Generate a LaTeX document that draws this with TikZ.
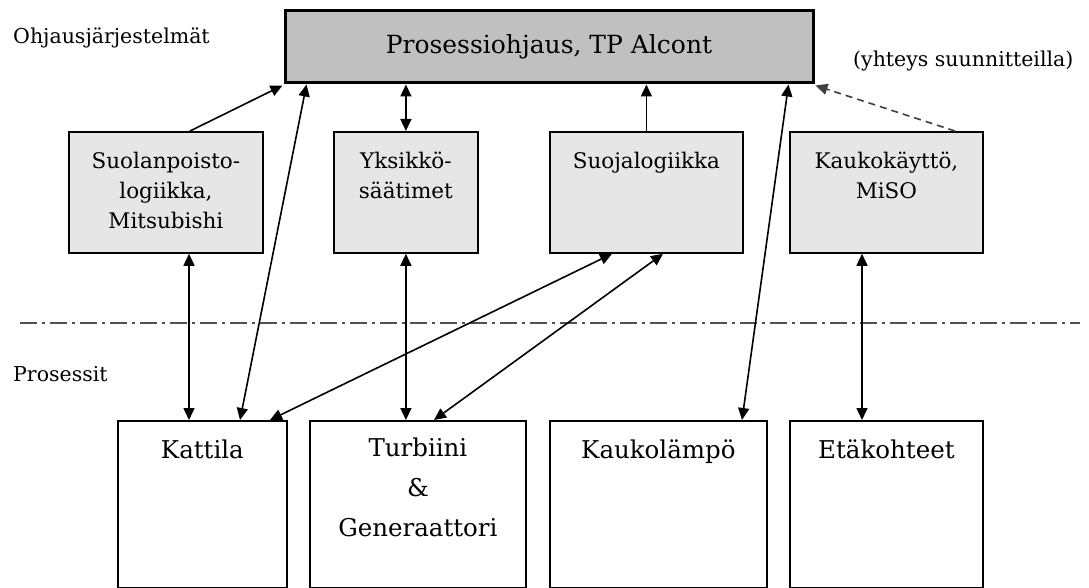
\documentclass[tikz,border=0pt]{standalone}
\usepackage{fontspec}
\setmainfont{DejaVu Serif}
\usetikzlibrary{arrows.meta,calc}
\definecolor{topfill}{HTML}{C0C0C0}
\definecolor{midfill}{HTML}{E6E6E6}
\definecolor{sepcol}{HTML}{505050}
\definecolor{plancol}{HTML}{404040}
\begin{document}
\begin{tikzpicture}[x=1pt,y=-1pt,
  >={Triangle[length=12pt,width=11pt]},
  topbox/.style={draw, line width=3pt, fill=topfill, minimum width=528pt, minimum height=72pt, inner sep=0pt, font=\fontsize{25}{30}\selectfont},
  midbox/.style={draw, line width=1.8pt, fill=midfill, minimum height=121pt, inner sep=0pt, anchor=north west},
  botbox/.style={draw, line width=1.8pt, fill=white, minimum height=167pt, inner sep=0pt, anchor=north west},
  midtxt/.style={anchor=north, inner sep=0pt, align=center, font=\fontsize{21.5}{30}\selectfont},
  bottxt/.style={anchor=north, inner sep=0pt, align=center, font=\fontsize{24.5}{40}\selectfont},
  lab/.style={anchor=base west, inner sep=0pt, font=\fontsize{20.5}{24}\selectfont},
  con/.style={line width=1.6pt},
  sepline/.style={line width=1.8pt, sepcol, dash pattern=on 17pt off 5pt on 3pt off 5pt},
  plan/.style={con, plancol, dash pattern=on 7pt off 5pt}
]
\useasboundingbox (0,0) rectangle (1089,588);

% labels
\node[lab] (ohj) at (13,44) {Ohjausjärjestelmät};
\node[lab] (pros) at (13,381) {Prosessit};
\node[lab] (yht) at (853,67) {(yhteys suunnitteilla)};

% top box
\node[topbox] (top) at (549,47) {Prosessiohjaus, TP Alcont};

% middle boxes
\node[midbox, minimum width=194pt] (suol) at (68,131) {};
\node[midbox, minimum width=144pt] (yks) at (333,131) {};
\node[midbox, minimum width=193pt] (suoj) at (549,131) {};
\node[midbox, minimum width=193pt] (kauk) at (789,131) {};
\node[midtxt] (suolT) at ($(suol.north)+(0,20.5)$) {Suolanpoisto-\\logiikka,\\Mitsubishi};
\node[midtxt] (yksT) at ($(yks.north)+(0,20.5)$) {Yksikkö-\\säätimet};
\node[midtxt] (suojT) at ($(suoj.north)+(0,20.5)$) {Suojalogiikka};
\node[midtxt] (kaukT) at ($(kauk.north)+(0,20.5)$) {Kaukokäyttö,\\MiSO};

% bottom boxes
\node[botbox, minimum width=169pt] (katt) at (117,420) {};
\node[botbox, minimum width=216pt] (turb) at (309,420) {};
\node[botbox, minimum width=217pt] (kaul) at (549,420) {};
\node[botbox, minimum width=193pt] (etak) at (789,420) {};
\node[bottxt] (kattT) at ($(katt.north)+(0,20)$) {Kattila};
\node[bottxt] (turbT) at ($(turb.north)+(0,18)$) {Turbiini\\\&\\Generaattori};
\node[bottxt] (kaulT) at ($(kaul.north)+(0,20)$) {Kaukolämpö};
\node[bottxt] (etakT) at ($(etak.north)+(0,20)$) {Etäkohteet};

% separator
\coordinate (sepL) at (20,323);
\coordinate (sepR) at (1080,323);
\draw[sepline] (sepL) -- (sepR);

% connectors to the top box
\draw[con, ->] ($(suol.north west)+(122,0)$) -- ($(top.south west)+(-1,1)$);
\draw[con, <->] ($(top.south west)+(23,0)$) -- ($(katt.north west)+(123,0)$);
\draw[con, <->] (yks.north |- top.south) -- (yks.north);
\draw[con, ->] (suoj.north) -- (suoj.north |- top.south);
\draw[con, <->] ($(top.south east)+(-26,0)$) -- ($(kaul.north west)+(193,0)$);
\draw[plan, ->] ($(kauk.north west)+(166,0)$) -- ($(top.south east)+(1,1)$);

% connectors middle to bottom
\draw[con, <->] ($(suol.south west)+(121,0)$) -- ($(katt.north west)+(72,0)$);
\draw[con, <->] (yks.south) -- (yks.south |- turb.north);
\draw[con, <->] ($(suoj.south west)+(63,0)$) -- ($(katt.north west)+(153,0)$);
\draw[con, <->] ($(suoj.south west)+(114,0)$) -- ($(turb.north west)+(125,0)$);
\draw[con, <->] ($(kauk.south west)+(73,0)$) -- ($(etak.north west)+(73,0)$);
\end{tikzpicture}
\end{document}
